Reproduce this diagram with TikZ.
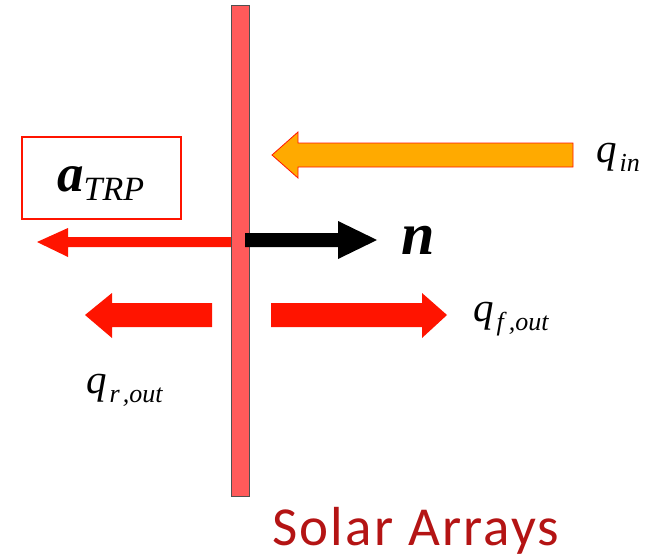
\documentclass[tikz,border=0pt]{standalone}
\usepackage{fontspec}
\newfontfamily\tmsfont{Liberation Serif}
\newfontfamily\carlitofont[LetterSpace=4]{Carlito}
\definecolor{barfill}{RGB}{255,90,90}
\definecolor{barline}{RGB}{80,80,80}
\definecolor{arrred}{RGB}{255,20,0}
\definecolor{arrorange}{RGB}{255,170,0}
\definecolor{labred}{RGB}{180,20,20}
\tikzset{
  blockarrow/.style={fill=arrred, draw=none},
  lbl/.style={inner sep=0pt, anchor=base west},
}
\newcommand{\qsub}[1]{{\fontsize{41}{41}\selectfont q}\hspace{3pt}\raisebox{-9pt}{\fontsize{26}{26}\selectfont #1}}
\begin{document}
\begin{tikzpicture}[x=1pt,y=-1pt]
\useasboundingbox (0,0) rectangle (652,559);
% a_TRP box
\draw[arrred, line width=2.5pt] (22,137) rectangle (181,219);
\node[lbl] (atrp) at (57,191) {\tmsfont\bfseries\itshape\fontsize{53}{53}\selectfont a\raisebox{-9pt}{\mdseries\fontsize{34}{34}\selectfont TRP}};
% thin red arrow
\fill[blockarrow] (37,242) -- (68,228) -- (68,237) -- (236,237) -- (236,247) -- (68,247) -- (68,257) -- cycle;
% orange arrow
\filldraw[fill=arrorange, draw=arrred, line width=0.8pt] (272,155) -- (298,132) -- (298,143) -- (573,143) -- (573,167) -- (298,167) -- (298,178) -- cycle;
% left / right red block arrows
\fill[blockarrow] (85,315) -- (112,293) -- (112,303) -- (212,303) -- (212,327) -- (112,327) -- (112,338) -- cycle;
\fill[blockarrow] (447,315) -- (422,293) -- (422,303) -- (271,303) -- (271,327) -- (422,327) -- (422,338) -- cycle;
% bar
\filldraw[fill=barfill, draw=barline, line width=1pt] (231,6) rectangle (249,496);
% black normal arrow
\fill[black] (245,233) -- (338,233) -- (338,221) -- (377,240) -- (338,259) -- (338,247) -- (245,247) -- cycle;
% labels
\node[lbl] (n) at (401,254) {\tmsfont\bfseries\itshape\fontsize{60}{60}\selectfont n};
\node[lbl] (qin) at (596,162) {\tmsfont\itshape\qsub{in}};
\node[lbl] (qf) at (473,321) {\tmsfont\itshape\qsub{f\hspace{5pt},out}};
\node[lbl] (qr) at (86,393) {\tmsfont\itshape\qsub{r\hspace{3pt},out}};
\node[lbl, text=labred] (sa) at (272,545) {\carlitofont\fontsize{55}{55}\selectfont Solar Arrays};
\end{tikzpicture}
\end{document}
